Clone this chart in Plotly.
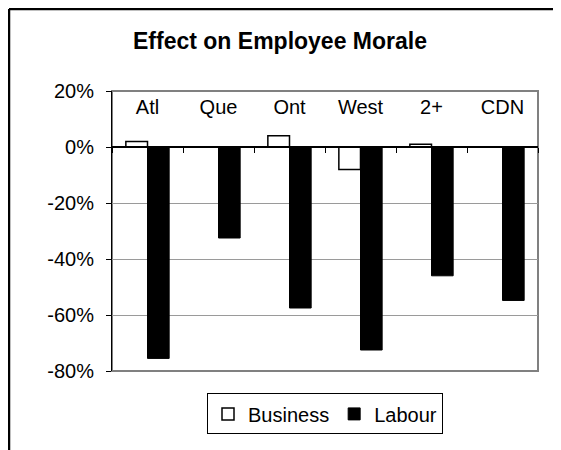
import plotly.graph_objects as go

regions = ["Atl", "Que", "Ont", "West", "2+", "CDN"]
business = [0.02, 0.0, 0.04, -0.08, 0.01, 0.0]
labour = [-0.755, -0.325, -0.575, -0.725, -0.46, -0.548]
y_ticks = [-0.8, -0.6, -0.4, -0.2, 0.0, 0.2]
y_labels = ["-80%", "-60%", "-40%", "-20%", "0%", "20%"]

FONT = "Liberation Sans, Arial, sans-serif"

# the page has an 8px body margin, so the figure starts at (8, 8) in the window
W, H = 553, 442
L, T, R, B = 104, 83, 23, 79
plot_w = W - L - R
plot_h = H - T - B

fig = go.Figure()
fig.add_trace(go.Bar(
    x=regions, y=business, name="Business",
    marker=dict(color="white", line=dict(color="black", width=1.5)),
))
fig.add_trace(go.Bar(
    x=regions, y=labour, name="Labour",
    marker=dict(color="black", line=dict(color="black", width=1)),
))

# x2: category axis line along 0% with ticks between categories
# x3: category names just under the top of the plot area
for ax in ["x2", "x3"]:
    fig.add_trace(go.Scatter(x=regions, y=[None] * len(regions), xaxis=ax,
                             showlegend=False, hoverinfo="skip"))

fig.update_layout(
    width=W, height=H,
    margin=dict(l=L, r=R, t=T, b=B, autoexpand=False),
    paper_bgcolor="white", plot_bgcolor="white",
    font=dict(family=FONT, size=20, color="black"),
    title=dict(text="<b>Effect on Employee Morale</b>", font=dict(size=23),
               x=272 / W, xref="container", xanchor="center",
               y=1 - 33 / H, yref="container", yanchor="middle"),
    barmode="group", bargap=0.39, bargroupgap=0.0,
    xaxis=dict(showticklabels=False, ticks="", showline=False, showgrid=False),
    xaxis2=dict(matches="x", overlaying="x", anchor="free", position=0.8,
                side="bottom", showline=True, linecolor="black", linewidth=1.5,
                ticks="outside", tickson="boundaries", ticklen=5, tickcolor="black",
                showticklabels=False, showgrid=False),
    xaxis3=dict(matches="x", overlaying="x", anchor="free", position=1 - 27 / plot_h,
                side="top", showline=False, ticks="", showgrid=False,
                tickfont=dict(size=20, color="black")),
    yaxis=dict(range=[-0.8, 0.2001], tickvals=y_ticks, ticktext=y_labels,
               showgrid=True, gridcolor="#9a9a9a", gridwidth=1,
               zeroline=False, showline=True, linecolor="black", linewidth=1,
               ticks="outside", ticklen=5, tickcolor="black", ticklabelstandoff=8,
               tickfont=dict(size=20, color="black")),
    legend=dict(orientation="h", x=0.5, xanchor="center", y=-0.08, yanchor="top",
                bordercolor="black", borderwidth=1, font=dict(size=20),
                itemwidth=30, tracegroupgap=0),
    shapes=[
        dict(type="rect", xref="paper", yref="paper", x0=0, x1=1, y0=0, y1=1,
             line=dict(color="#808080", width=2), layer="below"),
        # chart frame: only its left and top edges fall inside the window
        dict(type="line", xref="paper", yref="paper",
             x0=-(L - 1) / plot_w, x1=-(L - 1) / plot_w, y0=-1, y1=1 + (T - 1) / plot_h,
             line=dict(color="black", width=2.5)),
        dict(type="line", xref="paper", yref="paper",
             x0=-(L - 1) / plot_w, x1=2, y0=1 + (T - 1) / plot_h, y1=1 + (T - 1) / plot_h,
             line=dict(color="black", width=2.5)),
    ],
)

fig.write_html("out.html", config={"displayModeBar": False})
